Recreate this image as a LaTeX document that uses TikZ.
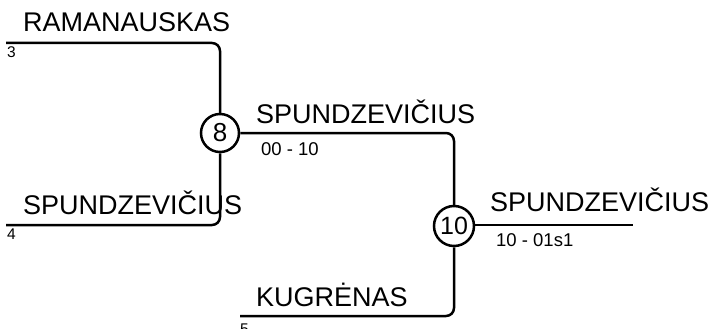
\documentclass[tikz,border=0pt]{standalone}
\usepackage{fontspec}
\setmainfont{Liberation Sans}
\begin{document}
\begin{tikzpicture}[x=1pt,y=-1pt,
  wire/.style={line width=2.5pt,rounded corners=8pt},
  seed/.style={draw,circle,line width=2.5pt,inner sep=0pt,minimum size=38pt,font=\fontsize{26}{28}\selectfont},
  player/.style={anchor=base west,inner sep=0pt,font=\fontsize{27}{30}\selectfont},
  score/.style={anchor=base west,inner sep=0pt,font=\fontsize{18.5}{20}\selectfont},
  slot/.style={anchor=base west,inner sep=0pt,font=\fontsize{15.5}{16}\selectfont}]
\useasboundingbox (0,0) rectangle (710,329);
\node[seed] (c8) at (220,133) {8};
\node[seed,minimum size=40pt,font=\fontsize{25}{28}\selectfont] (c10) at (454,226) {10};
\coordinate (a3) at (6,43);
\coordinate (a4) at (6,225);
\coordinate (a5) at (240,316);
\coordinate (out) at (633,225);
\draw[wire] (a3) -| (c8);
\draw[wire] (a4) -| (c8);
\draw[wire] (c8) -| (c10);
\draw[wire] (a5) -| (c10);
\draw[wire] (c10.east |- out) -- (out);
\node[player] (n3) at (23,32) {RAMANAUSKAS};
\node[slot] (s3) at (7,58) {3};
\node[player] (n4) at (23,214) {SPUNDZEVIČIUS};
\node[slot] (s4) at (7,239) {4};
\node[player] (n5) at (256,306) {KUGRĖNAS};
\node[slot] (s5) at (240,334) {5};
\node[player] (n8) at (256,123) {SPUNDZEVIČIUS};
\node[score] (r8) at (261,155) {00 - 10};
\node[player] (n10) at (490,211) {SPUNDZEVIČIUS};
\node[score] (r10) at (496,246) {10 - 01s1};
\end{tikzpicture}
\end{document}
